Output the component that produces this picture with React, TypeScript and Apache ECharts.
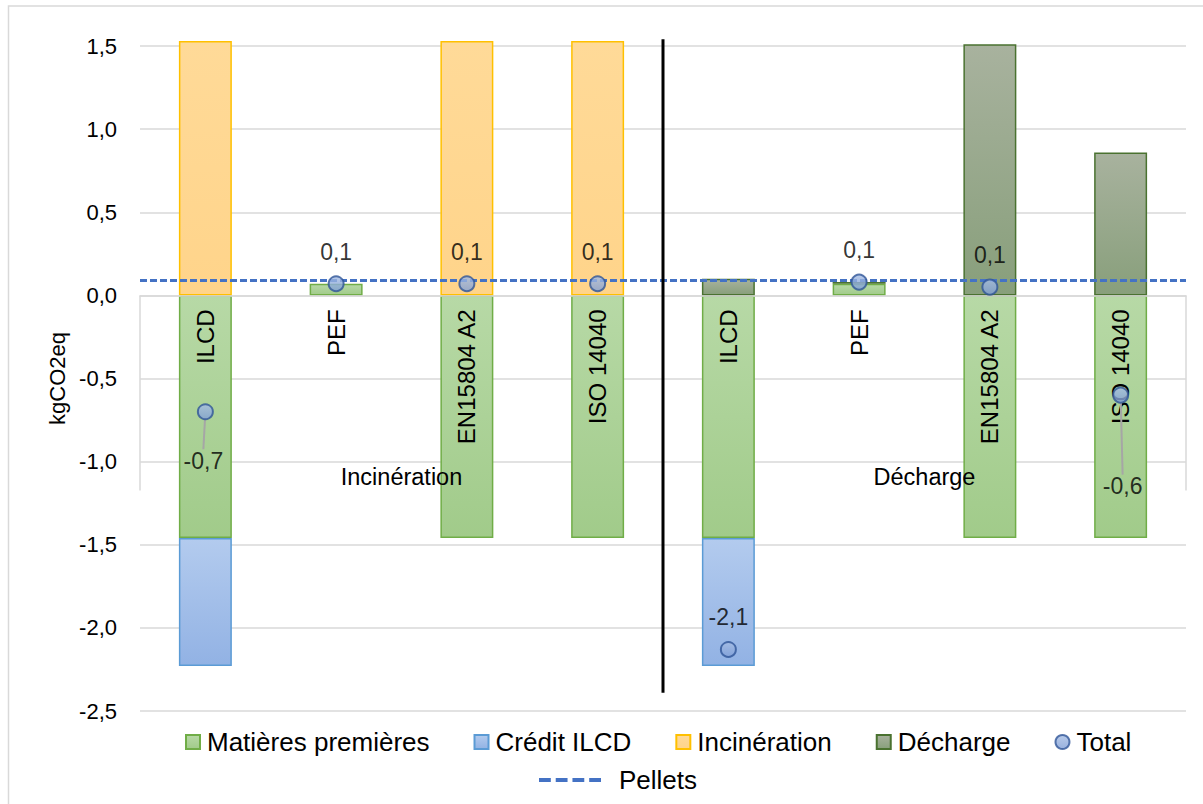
import React, { useEffect, useRef } from 'react';
import * as echarts from 'echarts';

// ---------- data ----------
const categories = ['ILCD', 'PEF', 'EN15804 A2', 'ISO 14040', 'ILCD', 'PEF', 'EN15804 A2', 'ISO 14040'];
const groups = ['Incinération', 'Décharge'];
const matieres = [-1.46, 0.07, -1.46, -1.46, -1.46, 0.07, -1.46, -1.46];
const creditILCD = [-0.77, null, null, null, -0.77, null, null, null];
const incineration = [1.53, null, 1.53, 1.53, null, null, null, null];
const decharge = [null, null, null, null, 0.1, 0.01, 1.51, 0.86];
const total = [-0.7, 0.07, 0.07, 0.07, -2.13, 0.08, 0.05, -0.6];
const pellets = 0.09;
const yMin = -2.5;
const yMax = 1.5;
const yStep = 0.5;

const FONT = "'Liberation Sans', Arial, sans-serif";
const fmt = (v: number) => v.toFixed(1).replace('.', ',');
const grad = (a: string, b: string) => ({
  type: 'linear', x: 0, y: 0, x2: 0, y2: 1,
  colorStops: [{ offset: 0, color: a }, { offset: 1, color: b }],
});

export default function App() {
  const ref = useRef<HTMLDivElement>(null);
  useEffect(() => {
    const chart = echarts.init(ref.current!, null, { renderer: 'svg' });
    const gridTop = 46;
    const gridBottom = 93;
    const plotH = 804 - gridTop - gridBottom;
    const zeroOffset = (plotH * (0 - yMin)) / (yMax - yMin);

    const barBase = { type: 'bar', stack: 'a', barWidth: '40.5%', z: 2, clip: false };
    const option: any = {
      animation: false,
      textStyle: { fontFamily: FONT, color: '#000' },
      grid: {
        left: 140, right: 17, top: gridTop, bottom: gridBottom,
        containLabel: false, outerBoundsMode: 'none',
      },
      xAxis: [
        {
          type: 'category',
          data: categories.map((_, i) => String(i)),
          position: 'bottom',
          offset: -zeroOffset,
          z: 4,
          axisLine: { onZero: false, lineStyle: { color: '#D9D9D9', width: 1.5 } },
          axisTick: { show: false },
          axisLabel: {
            rotate: 90, margin: 14, fontSize: 24, color: '#000', fontFamily: FONT,
            formatter: (_v: string, i: number) => categories[i],
          },
          splitLine: { show: false },
        },
        {
          type: 'category',
          data: groups,
          position: 'bottom',
          offset: -zeroOffset,
          z: 4,
          axisLine: { show: false, onZero: false },
          axisTick: { show: true, length: 195, lineStyle: { color: '#D9D9D9', width: 1.5 } },
          axisLabel: { margin: 170, fontSize: 23.5, color: '#000', fontFamily: FONT },
          splitLine: { show: false },
        },
      ],
      yAxis: {
        type: 'value', min: yMin, max: yMax, interval: yStep,
        name: 'kgCO2eq', nameLocation: 'middle', nameGap: 72,
        nameTextStyle: { fontSize: 22, color: '#000', fontFamily: FONT },
        axisLabel: { formatter: fmt, fontSize: 22, color: '#000', margin: 23, fontFamily: FONT },
        axisLine: { show: false }, axisTick: { show: false },
        splitLine: { lineStyle: { color: '#D9D9D9', width: 1.5 } },
      },
      legend: [
        {
          data: ['Matières premières', 'Crédit ILCD', 'Incinération', 'Décharge', { name: 'Total', icon: 'circle' }],
          icon: 'rect', left: 180, top: 724, itemWidth: 14, itemHeight: 14, itemGap: 44,
          textStyle: { fontSize: 26, color: '#000', fontFamily: FONT, padding: [0, 0, 0, 2] },
        },
        {
          data: [{
            name: 'Pellets',
            icon: 'path://M0,0h12v4h-12zM17,0h12v4h-12zM34,0h12v4h-12zM51,0h12v4h-12z',
          }],
          left: 534, top: 762, itemWidth: 62, itemHeight: 4, itemGap: 10,
          itemStyle: { color: '#4472C4', borderWidth: 0 },
          textStyle: { fontSize: 26, color: '#000', fontFamily: FONT, padding: [0, 0, 0, 13] },
        },
      ],
      series: [
        {
          ...barBase, name: 'Matières premières', data: matieres,
          itemStyle: { color: grad('#B7D9A6', '#A1CB8A'), borderColor: '#70AD47', borderWidth: 1.5 },
        },
        {
          ...barBase, name: 'Crédit ILCD', data: creditILCD,
          itemStyle: { color: grad('#B3CBEE', '#92B2E4'), borderColor: '#5B9BD5', borderWidth: 1.5 },
        },
        {
          ...barBase, name: 'Incinération', data: incineration,
          itemStyle: { color: grad('#FFDA98', '#FFD48A'), borderColor: '#FFC000', borderWidth: 1.5 },
        },
        {
          ...barBase, name: 'Décharge', data: decharge,
          itemStyle: { color: grad('#A8B29E', '#889F7B'), borderColor: '#4A7230', borderWidth: 1.5 },
        },
        {
          type: 'line', name: 'Pellets', data: categories.map(() => null), showSymbol: false,
          color: '#4472C4', z: 3,
          lineStyle: { color: '#4472C4', width: 3, type: [7, 3] },
          markLine: {
            silent: true, symbol: ['none', 'none'], label: { show: false },
            lineStyle: { color: '#4472C4', width: 3, type: [7, 3] },
            emphasis: { disabled: true },
            data: [{ yAxis: pellets }],
          },
        },
        {
          type: 'scatter', name: 'Total', z: 5,
          symbol: 'circle', symbolSize: 15,
          itemStyle: { color: grad('#A6BDE4', '#7F9ED6'), borderColor: '#2F5597', borderWidth: 2 },
          label: {
            show: true, position: 'top', distance: 12, fontSize: 23, color: '#000', fontFamily: FONT,
            formatter: (p: any) => fmt(p.value[1]),
          },
          labelLine: { show: false, lineStyle: { color: '#A6A6A6', width: 2 } },
          labelLayout: (p: any) => {
            if (p.dataIndex === 0) return { dx: -2, dy: 81 };
            if (p.dataIndex === 7) return { dx: 2, dy: 123 };
            return {};
          },
          data: total.map((v, i) => {
            const item: any = { value: [i, v] };
            if (i === 0 || i === 7) item.labelLine = { show: true, lineStyle: { color: '#A6A6A6', width: 2 } };
            return item;
          }),
        },
      ],
    };
    chart.setOption(option);

    const p3 = chart.convertToPixel({ gridIndex: 0 }, [3, 1.54]) as number[];
    const p4 = chart.convertToPixel({ gridIndex: 0 }, [4, -2.39]) as number[];
    const xDiv = (p3[0] + p4[0]) / 2;
    chart.setOption({
      graphic: [
        {
          type: 'rect', silent: true, z: 0,
          shape: { x: 8.5, y: 6, width: 1400, height: 1000 },
          style: { fill: 'none', stroke: '#D9D9D9', lineWidth: 1.5 },
        },
        {
          type: 'line', silent: true, z: 10,
          shape: { x1: xDiv, y1: p3[1], x2: xDiv, y2: p4[1] },
          style: { stroke: '#000', lineWidth: 3 },
        },
      ],
    });
    return () => chart.dispose();
  }, []);
  return (
    <div
      ref={ref}
      style={{ position: 'fixed', left: 0, top: 0, width: 1203, height: 804, background: '#fff' }}
    />
  );
}
